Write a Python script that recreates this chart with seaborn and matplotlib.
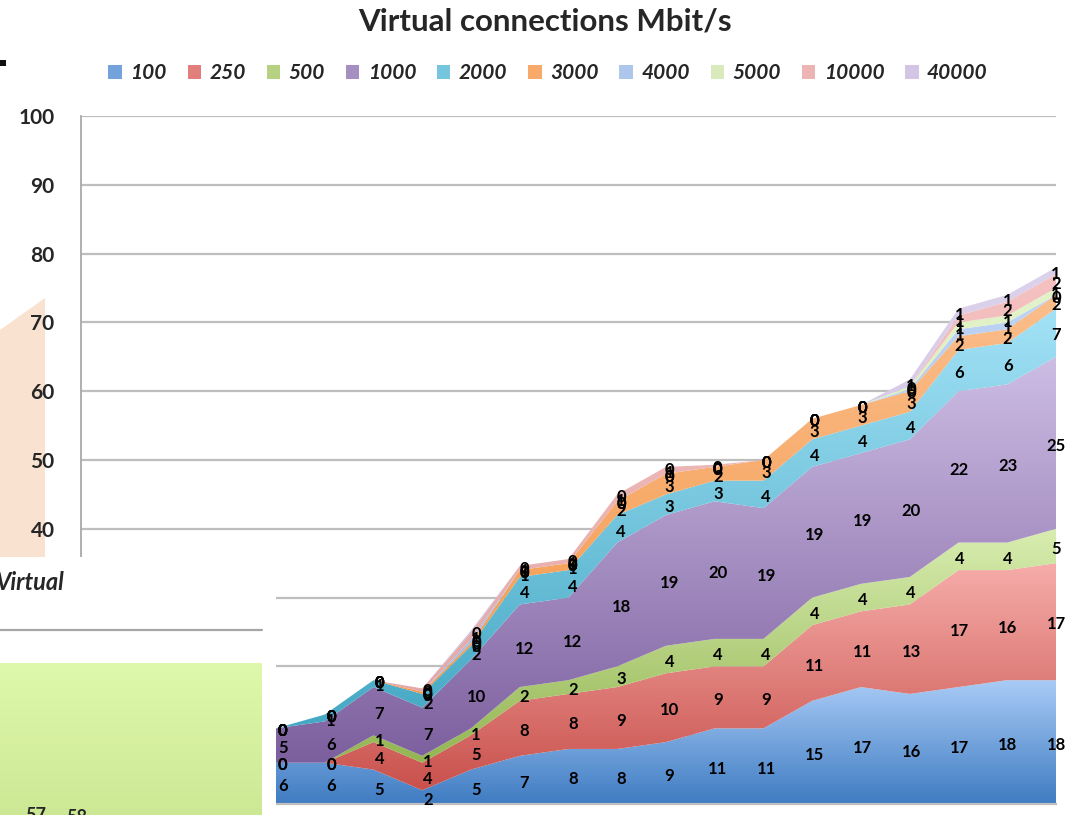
import numpy as np
import pandas as pd
import matplotlib
matplotlib.use("Agg")
import matplotlib.pyplot as plt
import seaborn as sns
from matplotlib.colors import LinearSegmentedColormap
from matplotlib.patches import Rectangle, Polygon, Patch
from matplotlib.lines import Line2D

# ---------------- data (visible categories) ----------------
series_names = ["100", "250", "500", "1000", "2000", "3000", "4000", "5000", "10000", "40000"]
s100 = [6, 6, 5, 2, 5, 7, 8, 8, 9, 11, 11, 15, 17, 16, 17, 18, 18]
s250 = [0, 0, 4, 4, 5, 8, 8, 9, 10, 9, 9, 11, 11, 13, 17, 16, 17]
s500 = [0, 0, 1, 1, 1, 2, 2, 3, 4, 4, 4, 4, 4, 4, 4, 4, 5]
s1000 = [5, 6, 7, 7, 10, 12, 12, 18, 19, 20, 19, 19, 19, 20, 22, 23, 25]
s2000 = [0, 1, 1, 2, 2, 4, 4, 4, 3, 3, 4, 4, 4, 4, 6, 6, 7]
s3000 = [0, 0, 0, 0.3, 0.4, 1, 1, 2, 3, 2, 3, 3, 3, 3, 2, 2, 2]
s4000 = [0, 0, 0, 0, 0.5, 0, 0, 0, 0, 0, 0, 0, 0, 0.3, 1, 1, 0]
s5000 = [0, 0, 0, 0, 0, 0, 0, 0, 0, 0, 0, 0, 0, 0.4, 1, 1, 1]
s10000 = [0, 0, 0, 0.5, 1, 0.6, 0.6, 1, 1, 0.3, 0, 0, 0, 0, 1, 2, 2]
s40000 = [0, 0, 0, 0, 0.3, 0, 0, 0, 0, 0, 0, 0, 0, 1, 1, 1, 1]
y_ticks = [0, 10, 20, 30, 40, 50, 60, 70, 80, 90, 100]
title = "Virtual connections Mbit/s"

# colour pairs (dark bottom, light top) for gradient fills
dark = ["#3F7CC2", "#C9514C", "#93B552", "#7C5F9E", "#45A8C4",
        "#F39646", "#9DB8E3", "#CFE2AE", "#E2A6A5", "#C8B9DC"]
light = ["#A9CBF6", "#F6ADAA", "#D8EDB0", "#CDBDE4", "#A3E2F6",
         "#FBBE8C", "#BED4F5", "#E3F3C9", "#F5C2C1", "#DDD2EC"]

df = pd.DataFrame({n: v for n, v in zip(series_names,
                   [s100, s250, s500, s1000, s2000, s3000, s4000, s5000, s10000, s40000])}, dtype=float)

sns.set_theme(style="white")
plt.rcParams["font.family"] = ["Lato", "DejaVu Sans"]

W, H = 1068, 815
fig = plt.figure(figsize=(W / 100, H / 100), dpi=100)
ax = fig.add_axes([81 / W, 1 - 804 / H, (1056 - 81) / W, (804 - 116) / H])
ax.patch.set_alpha(0)

n_hidden = 4  # first categories are hidden behind the overlapping slide shape
n_total = n_hidden + len(df) - 1
x = np.arange(n_hidden, n_hidden + len(df), dtype=float)

cum = df.cumsum(axis=1)
lower = cum.shift(1, axis=1).fillna(0)

grad = np.linspace(0, 1, 256).reshape(-1, 1)
for i, name in enumerate(series_names):
    lo = lower[name].values
    hi = cum[name].values
    poly = ax.fill_between(x, lo, hi, facecolor=dark[i], edgecolor="none", lw=0, zorder=1)
    ymin, ymax = lo.min(), hi.max()
    if ymax > ymin:
        cmap = LinearSegmentedColormap.from_list(f"g{i}", [dark[i], light[i]])
        im = ax.imshow(grad, extent=[x[0], x[-1], ymin, ymax], origin="lower",
                       aspect="auto", cmap=cmap, zorder=1.1, interpolation="bilinear")
        im.set_clip_path(poly.get_paths()[0], transform=ax.transData)
        poly.set_visible(False)

# data labels
for i, name in enumerate(series_names):
    for j in range(len(df)):
        v = df[name].iloc[j]
        yc = lower[name].iloc[j] + v / 2
        xo = x[j] + 0.14 * (x[-1] - x[j]) / (x[-1] - x[0])
        ax.text(xo, yc - 0.4, f"{int(round(v))}", ha="center", va="center",
                fontsize=12, fontweight="bold", color="black", zorder=5)

ax.set_xlim(0, n_total)
ax.set_ylim(0, 100)
ax.set_yticks(y_ticks)
ax.set_yticks(np.arange(0, 101, 2), minor=True)
ax.set_xticks(np.arange(0, n_total + 1))
ax.set_xticklabels([])
ax.yaxis.grid(True, which="major", color="#BEBEBE", lw=1.6, zorder=0.5)
ax.set_axisbelow(True)
ax.tick_params(axis="y", which="both", direction="in", length=6, width=1,
               color="#A6A6A6", labelsize=15, pad=19)
ax.tick_params(axis="y", which="minor", length=5)
ax.tick_params(axis="x", which="major", direction="in", length=6, width=1, color="#BEBEBE")
for lab in ax.get_yticklabels():
    lab.set_fontweight("bold")
for s in ["top", "right"]:
    ax.spines[s].set_visible(False)
ax.spines["left"].set_color("#A6A6A6")
ax.spines["bottom"].set_color("#BEBEBE")
ax.spines["bottom"].set_linewidth(1.6)

fig.text(545 / W, 1 - 22 / H, title, ha="center", va="center",
         fontsize=22.5, fontweight="bold")

handles = [Patch(facecolor=(np.array(matplotlib.colors.to_rgb(dark[i])) * 0.5 +
                            np.array(matplotlib.colors.to_rgb(light[i])) * 0.5),
                 edgecolor="none") for i in range(len(series_names))]
leg = fig.legend(handles, series_names, loc="center", bbox_to_anchor=(548 / W, 1 - 73 / H),
                 ncol=10, frameon=False, handlelength=0.65, handleheight=0.65,
                 handletextpad=0.4, columnspacing=1.0,
                 prop={"size": 15, "weight": "bold", "style": "italic"})

# ---------------- overlapping slide shapes ----------------
def fx(px):
    return px / W

def fy(py):
    return 1 - py / H

# peach shape lies behind the chart
fig.add_artist(Polygon([(0, fy(330)), (fx(45), fy(298)), (fx(45), fy(557)), (0, fy(557))],
                       closed=True, transform=fig.transFigure, facecolor="#F9E2CF",
                       edgecolor="none", zorder=-1))
# shapes in front of the chart
fig.add_artist(Rectangle((0, 0), fx(276), fy(557), transform=fig.transFigure,
                         facecolor="white", edgecolor="none", zorder=3))
fig.add_artist(Rectangle((0, fy(66)), fx(6), fy(60) - fy(66), transform=fig.transFigure,
                         facecolor="#111111", edgecolor="none", zorder=3))
fig.add_artist(Line2D([0, fx(262)], [fy(630), fy(630)], transform=fig.transFigure,
                      color="#A6A6A6", lw=1.6, zorder=3))
gax = fig.add_axes([0, 0, fx(262), fy(663)], zorder=4)
gcm = LinearSegmentedColormap.from_list("gg", ["#CDE895", "#DFF9AC"])
gax.imshow(grad, origin="lower", aspect="auto", cmap=gcm, extent=[0, 1, 0, 1])
gax.set_axis_off()
fig.text(fx(65), fy(583), "Virtual", ha="right", va="center", fontsize=17,
         fontweight="bold", fontstyle="italic", zorder=6)
fig.text(fx(36), fy(807), "57", ha="center", va="top", fontsize=13, fontweight="bold", zorder=6)
fig.text(fx(77), fy(809), "58", ha="center", va="top", fontsize=13, fontweight="bold", zorder=6)

fig.savefig("out.png", dpi=100)
